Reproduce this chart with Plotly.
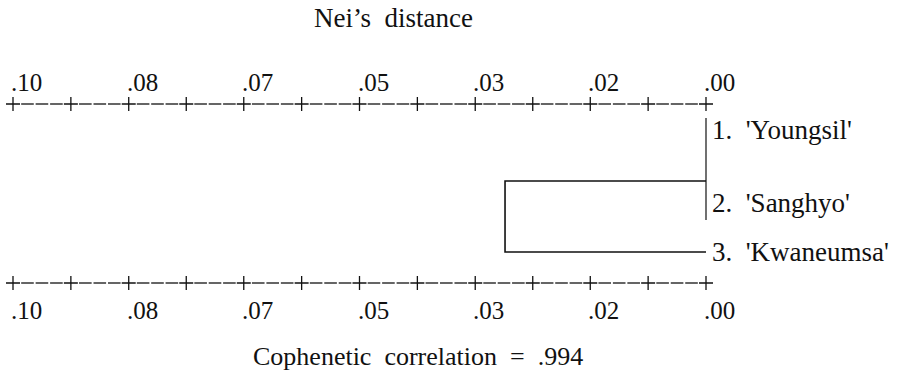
import plotly.graph_objects as go

# ---------------- data ----------------
leaf_labels = ["1.\u00a0\u00a0'Youngsil'", "2.\u00a0\u00a0'Sanghyo'", "3.\u00a0\u00a0'Kwaneumsa'"]
# agglomeration steps (Nei's distance at which clusters join)
merge_pairs = [("Youngsil", "Sanghyo"), ("Youngsil+Sanghyo", "Kwaneumsa")]
merge_distance = [0.0, 0.029]
tick_values = [0.10, 0.0833, 0.0667, 0.05, 0.0333, 0.0167, 0.0]
tick_labels = [".10", ".08", ".07", ".05", ".03", ".02", ".00"]
title_text = "Nei\u2019s\u00a0\u00a0distance"
footer_text = "Cophenetic\u00a0\u00a0correlation\u00a0\u00a0=\u00a0\u00a0.994"

# ---------------- layout (vertical rows, px from top) ----------------
W, H = 906, 370
ROW = dict(title=18, top_labels=82, top_ruler=104, pair_top=118, youngsil=130,
           cluster=181, sanghyo=203, pair_bot=220, kwan=252, bot_ruler=283,
           bot_labels=310, footer=356)
FONT = "Liberation Serif, Times New Roman, serif"
INK = "#111111"

# ruler: a "+" at every tick and half-tick, three dashes between each "+"
plus_x, dash_x = [], []
for a, b in zip(tick_values[:-1], tick_values[1:]):
    plus_x += [a, (a + b) / 2]
    dash_x += [a + (b - a) * j / 8 for j in (1, 2, 3, 5, 6, 7)]
plus_x.append(tick_values[-1])

fig = go.Figure()
for yr in (ROW["top_ruler"], ROW["bot_ruler"]):
    fig.add_trace(go.Scatter(x=dash_x, y=[yr] * len(dash_x), mode="markers",
                             marker=dict(symbol="line-ew", size=9,
                                         line=dict(color=INK, width=1.3)),
                             hoverinfo="skip", showlegend=False))
    fig.add_trace(go.Scatter(x=plus_x, y=[yr] * len(plus_x), mode="markers",
                             marker=dict(symbol="cross-thin", size=10,
                                         line=dict(color=INK, width=1.3)),
                             hoverinfo="skip", showlegend=False))

d1, d2 = merge_distance
# step 1: Youngsil + Sanghyo
fig.add_trace(go.Scatter(x=[d1, d1], y=[ROW["pair_top"], ROW["pair_bot"]], mode="lines",
                         line=dict(color=INK, width=1.2), hoverinfo="skip", showlegend=False))
# step 2: (Youngsil, Sanghyo) + Kwaneumsa
fig.add_trace(go.Scatter(x=[d1, d2, d2, 0.0],
                         y=[ROW["cluster"], ROW["cluster"], ROW["kwan"], ROW["kwan"]],
                         mode="lines", line=dict(color=INK, width=1.6),
                         hoverinfo="skip", showlegend=False))

ann = []
for tv, tl in zip(tick_values, tick_labels):
    for yr in (ROW["top_labels"], ROW["bot_labels"]):
        ann.append(dict(x=tv, y=yr, xref="x", yref="y", text=tl, showarrow=False,
                        xanchor="left", yanchor="middle", xshift=-4,
                        font=dict(family=FONT, size=25, color=INK)))
for lbl, yr in zip(leaf_labels, (ROW["youngsil"], ROW["sanghyo"], ROW["kwan"])):
    ann.append(dict(x=0.0, y=yr, xref="x", yref="y", text=lbl, showarrow=False,
                    xanchor="left", yanchor="middle", xshift=4,
                    font=dict(family=FONT, size=27, color=INK)))
ann.append(dict(x=0.434, y=ROW["title"], xref="paper", yref="y", text=title_text,
                showarrow=False, xanchor="center", yanchor="middle",
                font=dict(family=FONT, size=27, color=INK)))
ann.append(dict(x=0.461, y=ROW["footer"], xref="paper", yref="y", text=footer_text,
                showarrow=False, xanchor="center", yanchor="middle",
                font=dict(family=FONT, size=26, color=INK)))

fig.update_layout(
    width=W, height=H, margin=dict(l=0, r=0, t=0, b=0),
    paper_bgcolor="white", plot_bgcolor="white",
    xaxis=dict(range=[0.101876, -0.028860], visible=False, fixedrange=True),
    yaxis=dict(range=[H, 0], visible=False, fixedrange=True),
    annotations=ann, showlegend=False,
)
fig.write_html("out.html", config={"displayModeBar": False},
               post_script="document.body.style.margin='0';document.body.style.overflow='hidden';")
